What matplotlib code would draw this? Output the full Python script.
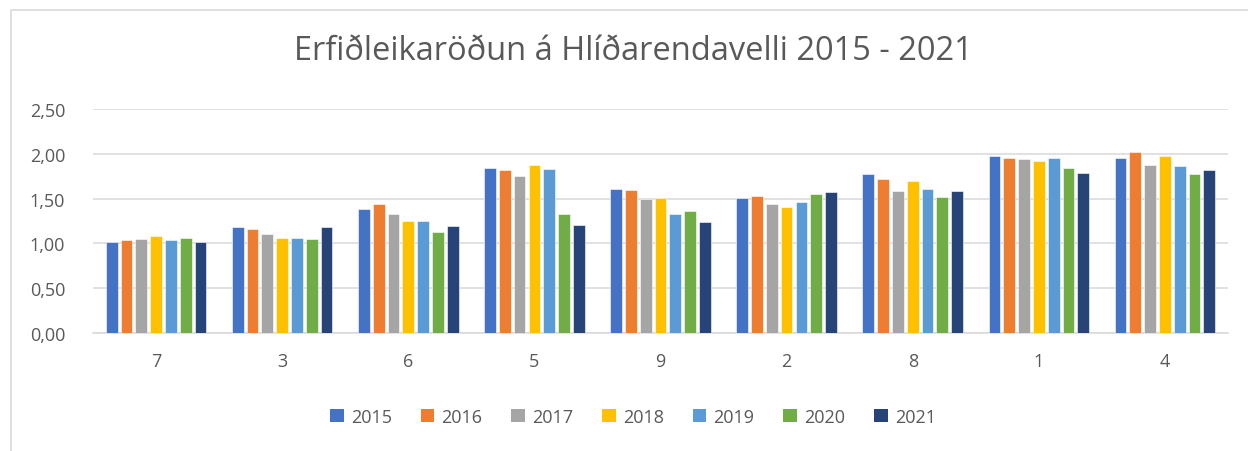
import matplotlib.pyplot as plt
import numpy as np
from matplotlib.patches import Patch, Rectangle

# Gögn lesin af myndinni
brautir = ['7', '3', '6', '5', '9', '2', '8', '1', '4']
ar = ['2015', '2016', '2017', '2018', '2019', '2020', '2021']
v2015 = [1.02, 1.18, 1.38, 1.84, 1.61, 1.51, 1.77, 1.98, 1.95]
v2016 = [1.04, 1.16, 1.44, 1.82, 1.60, 1.53, 1.72, 1.95, 2.02]
v2017 = [1.05, 1.10, 1.33, 1.75, 1.50, 1.44, 1.58, 1.94, 1.87]
v2018 = [1.08, 1.06, 1.25, 1.88, 1.51, 1.41, 1.70, 1.92, 1.98]
v2019 = [1.04, 1.06, 1.25, 1.83, 1.33, 1.46, 1.61, 1.95, 1.86]
v2020 = [1.06, 1.05, 1.13, 1.33, 1.36, 1.55, 1.52, 1.84, 1.78]
v2021 = [1.02, 1.18, 1.19, 1.21, 1.24, 1.57, 1.59, 1.79, 1.82]
gildi = [v2015, v2016, v2017, v2018, v2019, v2020, v2021]
litir = ['#4472C4', '#ED7D31', '#A5A5A5', '#FFC000', '#5B9BD5', '#70AD47', '#264478']

textalitur = '#595959'
grid_litur = '#D9D9D9'
plt.rcParams['font.family'] = ['Open Sans', 'DejaVu Sans']

fig = plt.figure(figsize=(12.48, 4.52), dpi=100)
ax = fig.add_axes([93 / 1248, 1 - 334 / 452, (1228 - 93) / 1248, (334 - 110) / 452])

# ramminn utan um grafið (aðeins efri og vinstri hlið sjást)
fig.patches.append(Rectangle((11 / 1248, -0.1), 1.2, 1 - 11 / 452 + 0.1,
                             transform=fig.transFigure, fill=False,
                             edgecolor=grid_litur, linewidth=1.2))

x = np.arange(len(brautir))
skref = 0.1174
breidd = 0.093
for i, (v, c) in enumerate(zip(gildi, litir)):
    ax.bar(x + (i - 3) * skref, v, width=breidd, color=c,
           edgecolor='white', linewidth=0.4, zorder=3)

ax.set_xlim(-0.5, len(brautir) - 0.5)
ax.set_ylim(0, 2.5)
ax.set_yticks(np.arange(0, 2.51, 0.5))
ax.set_yticklabels([f'{t:.2f}'.replace('.', ',') for t in np.arange(0, 2.51, 0.5)])
ax.set_xticks(x)
ax.set_xticklabels(brautir)
ax.grid(axis='y', color=grid_litur, linewidth=1.1, zorder=0)
for s in ['top', 'right', 'left']:
    ax.spines[s].set_visible(False)
ax.spines['bottom'].set_color(grid_litur)
ax.spines['bottom'].set_linewidth(1.1)
ax.tick_params(axis='both', length=0, labelsize=13, colors=textalitur)
ax.tick_params(axis='y', pad=20)
ax.tick_params(axis='x', pad=14)

fig.text(633 / 1248, 1 - 52 / 452, 'Erfiðleikaröðun á Hlíðarendavelli 2015 - 2021',
         ha='center', va='center', fontsize=23.5, color=textalitur)

handles = [Patch(facecolor=c, label=a) for a, c in zip(ar, litir)]
fig.legend(handles=handles, loc='center', bbox_to_anchor=(633 / 1248, 1 - 418 / 452),
           ncol=7, frameon=False, fontsize=13, labelcolor=textalitur,
           handlelength=0.75, handleheight=0.75, handletextpad=0.4, columnspacing=1.6)

fig.savefig('out.png', dpi=100)
